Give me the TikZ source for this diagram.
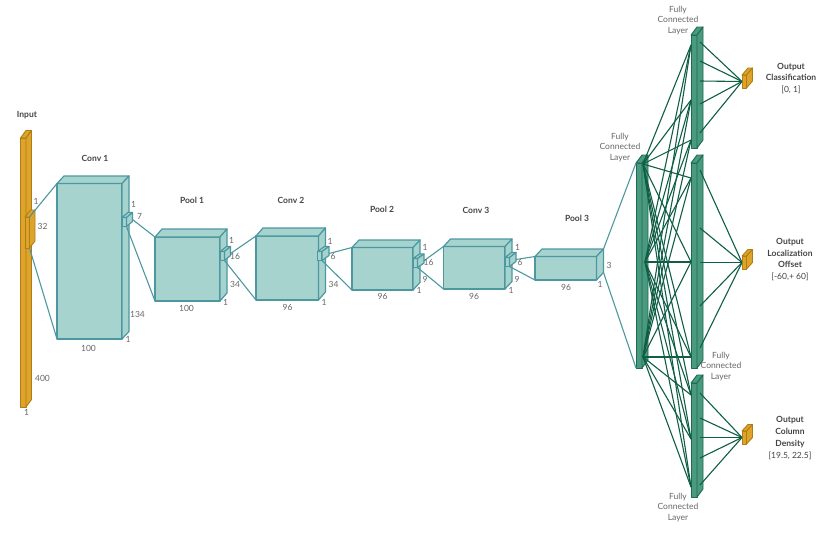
\documentclass[tikz,border=0pt]{standalone}
\usepackage{fontspec}
\setmainfont{Lato}
\usepackage{xcolor}
\usetikzlibrary{calc}
\definecolor{convfill}{HTML}{A6D3CE}
\definecolor{convdraw}{HTML}{4D98A0}
\definecolor{fcfill}{HTML}{4A9A7F}
\definecolor{fcdraw}{HTML}{1F6B52}
\definecolor{fcline}{HTML}{0F5E45}
\definecolor{inpfill}{HTML}{DDA32B}
\definecolor{inpdraw}{HTML}{B07D12}
\definecolor{txtgray}{HTML}{666666}
\definecolor{txtdark}{HTML}{444444}

\tikzset{
  conv/.style={fill=convfill, draw=convdraw, line width=1.2pt, line join=round},
  fcbar/.style={fill=fcfill, draw=fcdraw, line width=0.9pt, line join=round},
  inp/.style={fill=inpfill, draw=inpdraw, line width=0.9pt, line join=round},
  link/.style={draw=convdraw, line width=1.1pt},
  fclink/.style={draw=fcline, line width=1.1pt},
  dimlabel/.style={font=\fontsize{8.5}{10}\selectfont, text=txtgray, inner sep=0pt},
  ttl/.style={font=\fontsize{8.5}{10}\selectfont\bfseries, text=txtdark, inner sep=0pt},
  fclabel/.style={font=\fontsize{8.5}{10.3}\selectfont, text=txtgray, align=center, inner sep=0pt},
  outlabel/.style={font=\fontsize{8.5}{11.7}\selectfont, text=txtdark, align=center, inner sep=0pt},
}

\begin{document}
\begin{tikzpicture}[x=1pt,y=-1pt]
\useasboundingbox (0,0) rectangle (830,536);
% name, style, x, y, width, height, depth x, depth y
\def\cuboid#1#2#3#4#5#6#7#8{%
  \coordinate (#1-tl) at (#3,#4);
  \coordinate (#1-tr) at (#3+#5,#4);
  \coordinate (#1-bl) at (#3,#4+#6);
  \coordinate (#1-br) at (#3+#5,#4+#6);
  \coordinate (#1-lm) at (#3,#4+#6/2);
  \coordinate (#1-btl) at (#3+#7,#4-#8);
  \coordinate (#1-btr) at (#3+#5+#7,#4-#8);
  \coordinate (#1-bbr) at (#3+#5+#7,#4+#6-#8);
  \coordinate (#1-rm) at (#3+#5+#7,#4+#6/2-#8/2);
  \draw[#2] (#1-tl) rectangle (#1-br);
  \draw[#2] (#1-tl) -- (#1-btl) -- (#1-btr) -- (#1-tr) -- cycle;
  \draw[#2] (#1-tr) -- (#1-btr) -- (#1-bbr) -- (#1-br) -- cycle;
}

\cuboid{input}{inp}{20.5}{138}{5.5}{269}{5.5}{7.5}
\cuboid{conv1}{conv}{57}{183.5}{65}{155.5}{7}{7.5}
\cuboid{pool1}{conv}{155}{237}{65}{64}{7}{8}
\cuboid{conv2}{conv}{256}{236}{62.5}{64}{7}{8}
\cuboid{pool2}{conv}{352}{247.5}{61}{42.5}{7}{7.5}
\cuboid{conv3}{conv}{443.5}{246.5}{61.5}{42.5}{7}{7.5}
\cuboid{pool3}{conv}{535}{256.5}{61.5}{23.5}{7}{7.5}

\cuboid{kin}{inp}{25}{217}{4.5}{31}{5.5}{7}
\cuboid{kone}{conv}{122}{217.5}{4.5}{9}{6}{5}
\cuboid{ktwo}{conv}{220.5}{251.5}{4}{9}{6}{5}
\cuboid{kthree}{conv}{317.5}{251.5}{4.5}{9}{7}{5}
\cuboid{kfour}{conv}{413}{258.5}{4.5}{9}{6.5}{4.5}
\cuboid{kfive}{conv}{505}{257.5}{4.5}{9}{6.5}{5}

\draw[link] (kin-tr) -- (conv1-tl) (kin-br) -- (conv1-bl);
\draw[link] (kone-rm) -- (pool1-tl) (kone-br) -- (pool1-bl);
\draw[link] (ktwo-rm) -- (conv2-tl) (ktwo-br) -- (conv2-bl);
\draw[link] (kthree-rm) -- (pool2-tl) (kthree-br) -- (pool2-bl);
\draw[link] (kfour-rm) -- (conv3-tl) (kfour-br) -- (conv3-bl);
\draw[link] (kfive-rm) -- (pool3-tl) (kfive-br) -- (pool3-bl);

\cuboid{fcone}{fcbar}{636}{163}{6}{205}{6}{8}
\cuboid{fctop}{fcbar}{691}{35}{6}{113}{6}{8}
\cuboid{fcmid}{fcbar}{691}{163}{6}{205}{6}{8}
\cuboid{fcbot}{fcbar}{691}{383}{6}{114}{6}{8}

\draw[link] (pool3-btr) -- (fcone-tl) (pool3-bbr) -- (fcone-bl);

\coordinate (na) at (643,164);
\coordinate (nb) at (645,262);
\coordinate (nc) at (643,357);
\foreach \b/\ya/\yb/\yc in {top/45/100/140, mid/178/262/357, bot/395/439/487}{
  \coordinate (\b-in1) at (691,\ya);
  \coordinate (\b-in2) at (691,\yb);
  \coordinate (\b-in3) at (691,\yc);
}
\foreach \s in {na,nb,nc}
  \foreach \b in {top,mid,bot}
    \foreach \i in {1,2,3}
      \draw[fclink] (\s) -- (\b-in\i);

\foreach \y [count=\i] in {42,61,81,104,133}{
  \coordinate (top-out\i) at (700,\y);
  \draw[fclink] (top-out\i) -- (742,81.5);
}
\foreach \y [count=\i] in {170,228,262.5,306,348}{
  \coordinate (mid-out\i) at (700,\y);
  \draw[fclink] (mid-out\i) -- (742,262.5);
}
\foreach \y [count=\i] in {393,418,437.5,458,485}{
  \coordinate (bot-out\i) at (700,\y);
  \draw[fclink] (bot-out\i) -- (742,437.5);
}

\cuboid{outt}{inp}{742}{75}{4.5}{13}{6}{7}
\cuboid{outm}{inp}{742}{256}{4.5}{13}{6}{6.5}
\cuboid{outb}{inp}{742}{431}{4.5}{13}{6}{6.5}

\node[ttl] (t-input) at (27,115) {Input};
\node[ttl] (t-conv1) at (95,158) {Conv 1};
\node[ttl] (t-pool1) at (192,200.5) {Pool 1};
\node[ttl] (t-conv2) at (291,200) {Conv 2};
\node[ttl] (t-pool2) at (382,209.5) {Pool 2};
\node[ttl] (t-conv3) at (476,210) {Conv 3};
\node[ttl] (t-pool3) at (577,218) {Pool 3};

\node[dimlabel] (d-in-a) at (36,201) {1};
\node[dimlabel] (d-in-b) at (42.5,226) {32};
\node[dimlabel] (d-in-c) at (42.5,378.5) {400};
\node[dimlabel] (d-in-d) at (26.5,412.5) {1};

\node[dimlabel] (d-c1-a) at (133.5,204.5) {1};
\node[dimlabel] (d-c1-b) at (139.5,216) {7};
\node[dimlabel] (d-c1-c) at (137.5,314.5) {134};
\node[dimlabel] (d-c1-d) at (128,339) {1};
\node[dimlabel] (d-c1-e) at (88.5,348.5) {100};

\node[dimlabel] (d-p1-a) at (231.5,240.5) {1};
\node[dimlabel] (d-p1-b) at (235,256.5) {16};
\node[dimlabel] (d-p1-c) at (235,284) {34};
\node[dimlabel] (d-p1-d) at (225.5,302.5) {1};
\node[dimlabel] (d-p1-e) at (186.5,308.5) {100};

\node[dimlabel] (d-c2-a) at (330,241) {1};
\node[dimlabel] (d-c2-b) at (333,256.5) {6};
\node[dimlabel] (d-c2-c) at (333.5,284) {34};
\node[dimlabel] (d-c2-d) at (324,302.5) {1};
\node[dimlabel] (d-c2-e) at (287.5,307.5) {96};

\node[dimlabel] (d-p2-a) at (425,247.5) {1};
\node[dimlabel] (d-p2-b) at (428.5,262.5) {16};
\node[dimlabel] (d-p2-c) at (425,279.5) {9};
\node[dimlabel] (d-p2-d) at (419,290) {1};
\node[dimlabel] (d-p2-e) at (382.5,296.5) {96};

\node[dimlabel] (d-c3-a) at (517.5,247) {1};
\node[dimlabel] (d-c3-b) at (520,262.5) {6};
\node[dimlabel] (d-c3-c) at (517,279.5) {9};
\node[dimlabel] (d-c3-d) at (511,290) {1};
\node[dimlabel] (d-c3-e) at (474,296) {96};

\node[dimlabel] (d-p3-a) at (609,265) {3};
\node[dimlabel] (d-p3-b) at (600,284) {1};
\node[dimlabel] (d-p3-c) at (566,287) {96};

\node[fclabel] (l-fctop) at (678,20.5) {Fully\\Connected\\Layer};
\node[fclabel] (l-fcone) at (620,147.5) {Fully\\Connected\\Layer};
\node[fclabel] (l-fcmid) at (721,366.5) {Fully\\Connected\\Layer};
\node[fclabel] (l-fcbot) at (678,507.5) {Fully\\Connected\\Layer};

\node[outlabel] (l-cls) at (791,78.5) {\textbf{Output}\\\textbf{Classification}\\{[0, 1]}};
\node[outlabel] (l-loc) at (790,259.5) {\textbf{Output}\\\textbf{Localization}\\\textbf{Offset}\\{[-60,+ 60]}};
\node[outlabel] (l-den) at (790,438) {\textbf{Output}\\\textbf{Column}\\\textbf{Density}\\{[19.5, 22.5]}};
\end{tikzpicture}
\end{document}
